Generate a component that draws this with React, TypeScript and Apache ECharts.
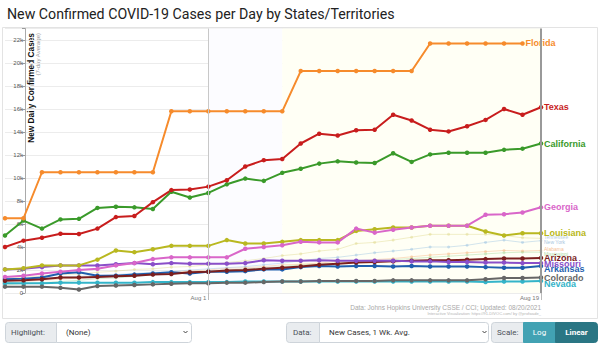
import React, { useEffect, useRef } from "react";
import * as echarts from "echarts";

const dates = [
  "Jul 21", "Jul 22", "Jul 23", "Jul 24", "Jul 25", "Jul 26", "Jul 27", "Jul 28", "Jul 29", "Jul 30",
  "Jul 31", "Aug 1", "Aug 2", "Aug 3", "Aug 4", "Aug 5", "Aug 6", "Aug 7", "Aug 8", "Aug 9",
  "Aug 10", "Aug 11", "Aug 12", "Aug 13", "Aug 14", "Aug 15", "Aug 16", "Aug 17", "Aug 18", "Aug 19",
];
const shownDates = ["Aug 1", "Aug 19"];
const yTicks = [0, 2000, 4000, 6000, 8000, 10000, 12000, 14000, 16000, 18000, 20000, 22000];

const florida = [6500, 6500, 10500, 10500, 10500, 10500, 10500, 10500, 10500, 15800, 15800, 15800, 15800, 15800, 15800, 15800, 19300, 19300, 19300, 19300, 19300, 19300, 19300, 21700, 21700, 21700, 21700, 21700, 21700];
const texas = [4000, 4550, 4800, 5150, 5130, 5600, 6600, 6700, 7900, 8950, 9000, 9250, 9800, 11000, 11550, 11650, 13000, 13850, 13700, 14150, 14200, 15500, 15000, 14200, 14050, 14500, 15050, 16000, 15500, 16150];
const california = [5000, 6300, 5600, 6400, 6450, 7400, 7500, 7450, 7300, 8800, 8300, 8700, 9450, 9950, 9750, 10450, 10800, 11250, 11450, 11350, 11300, 12150, 11400, 12050, 12200, 12200, 12200, 12450, 12550, 13000];
const georgia = [1400, 1500, 1700, 1850, 2000, 2100, 2400, 2600, 2950, 3100, 3100, 3100, 3100, 3850, 4000, 4150, 4450, 4400, 4400, 5600, 5250, 5500, 5700, 5850, 5850, 5850, 6800, 6850, 7000, 7450];
const louisiana = [2050, 2150, 2400, 2400, 2400, 2900, 3700, 3550, 3800, 4100, 4100, 4100, 4600, 4300, 4300, 4450, 4600, 4600, 4600, 5400, 5550, 5700, 5700, 5850, 5850, 5850, 5350, 5000, 5200, 5200];
const arizona = [1070, 1100, 1200, 1350, 1350, 1400, 1450, 1500, 1600, 1650, 1800, 1850, 1950, 2000, 2100, 2200, 2300, 2450, 2550, 2650, 2700, 2750, 2800, 2850, 2850, 2900, 2950, 3000, 3000, 3050];
const missouri = [2050, 2100, 2250, 2400, 2400, 2400, 2500, 2600, 2500, 2600, 2550, 2550, 2550, 2600, 2850, 2800, 2800, 2850, 2800, 2800, 2800, 2800, 2750, 2750, 2700, 2700, 2650, 2650, 2600, 2600];
const arkansas = [1200, 1250, 1350, 1700, 1800, 1500, 1500, 1600, 1700, 1800, 1700, 1850, 1850, 1900, 2050, 2050, 2250, 2350, 2300, 2350, 2350, 2300, 2350, 2300, 2300, 2300, 2250, 2200, 2200, 2350];
const colorado = [550, 550, 550, 450, 300, 600, 650, 700, 750, 800, 850, 850, 900, 900, 950, 1000, 1000, 1050, 1050, 1050, 1050, 1100, 1100, 1100, 1100, 1100, 1200, 1300, 1300, 1350];
const nevada = [850, 850, 850, 900, 900, 900, 900, 900, 950, 950, 950, 950, 950, 1000, 1000, 1000, 1000, 1000, 1000, 1000, 1000, 1000, 1000, 1000, 1000, 1000, 950, 1000, 1000, 1050];
const tennessee = [1300, 1350, 1500, 1600, 1650, 1800, 1900, 2050, 2100, 2250, 2300, 2450, 2650, 2800, 3000, 3250, 3400, 3650, 3800, 4300, 4400, 4600, 4850, 5100, 5100, 5100, 5100, 5000, 4800, 4750];
const newYork = [1200, 1250, 1300, 1350, 1450, 1500, 1600, 1700, 1800, 1850, 2000, 2100, 2200, 2300, 2450, 2600, 2800, 3000, 3100, 3300, 3500, 3650, 3800, 4000, 4000, 4150, 4400, 4600, 4400, 4550];
const alabama = [900, 1000, 1100, 1200, 1300, 1400, 1500, 1650, 1700, 1800, 1900, 2000, 2150, 2200, 2300, 2450, 2500, 2600, 2750, 2800, 2900, 3000, 3150, 3300, 3400, 3500, 3600, 3700, 3650, 3700];
const mississippi = [700, 800, 900, 1000, 1100, 1250, 1300, 1450, 1600, 1700, 1800, 1900, 2000, 2100, 2200, 2300, 2450, 2500, 2600, 2700, 2800, 2900, 3000, 3100, 3200, 3300, 3400, 3500, 3550, 3550];

const LABEL_FONT = "Liberation Sans, Arial, sans-serif";

function mainLine(name: string, data: number[], color: string, offset: number[] = [0, 0]) {
  return {
    type: "line",
    name,
    data,
    silent: true,
    symbol: "circle",
    symbolSize: 4.5,
    lineStyle: { width: 2, color },
    itemStyle: { color },
    endLabel: {
      show: true,
      formatter: () => name,
      color,
      fontSize: 9,
      fontWeight: "bold",
      fontFamily: LABEL_FONT,
      distance: 3,
      offset,
    },
    z: 3,
  };
}

function faintLine(name: string, data: number[], color: string, labelColor: string, offset: number[] = [0, 0]) {
  return {
    type: "line",
    name,
    data,
    silent: true,
    symbol: "circle",
    symbolSize: 3,
    lineStyle: { width: 1, color, opacity: 0.35 },
    itemStyle: { color, opacity: 0.35 },
    endLabel: {
      show: true,
      formatter: () => name,
      color: labelColor,
      fontSize: 5,
      fontFamily: LABEL_FONT,
      distance: 3,
      offset,
    },
    z: 2,
  };
}

export default function App() {
  const ref = useRef<HTMLDivElement>(null);
  useEffect(() => {
    if (!ref.current) return;
    const chart = echarts.init(ref.current, null, { renderer: "svg" });
    const textBase = { fontFamily: "Roboto, Liberation Sans, sans-serif" };
    chart.setOption({
      animation: false,
      backgroundColor: "#ffffff",
      title: {
        text: "New Confirmed COVID-19 Cases per Day by States/Territories",
        left: 2,
        top: 2,
        textStyle: { fontSize: 14.2, fontWeight: "normal", color: "#222", fontFamily: "Roboto, sans-serif" },
      },
      grid: { left: 5, right: 59, top: 28.5, bottom: 51, containLabel: false },
      xAxis: {
        type: "category",
        data: dates,
        boundaryGap: false,
        axisLine: { show: false },
        axisTick: {
          show: true,
          length: 7,
          interval: (i: number, v: string) => shownDates.includes(v),
          lineStyle: { color: "#bbb" },
        },
        axisLabel: {
          interval: (i: number, v: string) => shownDates.includes(v),
          fontSize: 6,
          color: "#777",
          align: "right",
          margin: 2,
          padding: [0, 2, 0, 0],
          fontFamily: "Liberation Sans, sans-serif",
        },
        splitLine: { show: false },
      },
      yAxis: {
        type: "value",
        min: 0,
        max: 23000,
        interval: 2000,
        offset: -20,
        axisLine: { show: true, lineStyle: { color: "#aaa" } },
        axisTick: { show: true, length: 3, lineStyle: { color: "#999" } },
        axisLabel: {
          fontSize: 6,
          color: "#555",
          margin: 2,
          fontFamily: "Liberation Sans, sans-serif",
          formatter: (v: number) => (yTicks.includes(v) ? (v === 0 ? "0" : v / 1000 + "k") : ""),
        },
        splitLine: { show: true, lineStyle: { color: "#ececec", width: 1 } },
      },
      series: [
        {
          type: "line",
          name: "bg",
          data: [],
          silent: true,
          z: 0,
          markArea: {
            silent: true,
            itemStyle: { color: "#fcfcff" },
            data: [
              [{ xAxis: "Aug 1" }, { xAxis: "Aug 5" }],
              [{ xAxis: "Aug 5", itemStyle: { color: "#fffff5" } }, { xAxis: "Aug 19" }],
            ],
          },
          markLine: {
            silent: true,
            symbol: "none",
            label: { show: false },
            data: [
              { xAxis: "Aug 1", lineStyle: { color: "#c8c8c8", width: 1, type: "solid" } },
              { xAxis: "Aug 19", lineStyle: { color: "#999", width: 2, type: "solid" } },
            ],
          },
        },
        faintLine("Mississippi", mississippi, "#8fcf85", "#b4dcaa", [0, 1.5]),
        faintLine("Alabama", alabama, "#f4a460", "#f6bf98", [0, -1]),
        faintLine("New York", newYork, "#7fb3de", "#a9c6e0", [0, 1.5]),
        faintLine("Tennessee", tennessee, "#d8cf70", "#b9cfe4", [0, -1]),
        mainLine("Nevada", nevada, "#34b4c9", [0, 3.3]),
        mainLine("Colorado", colorado, "#666666", [0, 0.3]),
        mainLine("Arkansas", arkansas, "#1f5fae", [0, 3.5]),
        mainLine("Arizona", arizona, "#7b1e1e", [0, 0]),
        mainLine("Missouri", missouri, "#8a4fc9", [0, 0.8]),
        mainLine("Louisiana", louisiana, "#b9b820", [0, -0.5]),
        mainLine("Georgia", georgia, "#d966c9", [0, 0]),
        mainLine("California", california, "#3a9a2a", [0, 0]),
        mainLine("Texas", texas, "#c81d1d", [0, 0]),
        mainLine("Florida", florida, "#f68b2c", [0, 0]),
      ],
      graphic: [
        {
          type: "rect",
          silent: true,
          z: -10,
          shape: { x: 2.5, y: 27.5, width: 595, height: 291 },
          style: { fill: "none", stroke: "#e3e3e3", lineWidth: 1 },
        },
        {
          type: "text",
          x: 27,
          y: 33,
          rotation: Math.PI / 2,
          style: {
            text: "New Daily Confirmed Cases",
            fill: "#111",
            fontSize: 8.3,
            fontWeight: "bold",
            fontFamily: "Liberation Sans, Arial, sans-serif",
            textAlign: "right",
            textVerticalAlign: "top",
            align: "right",
            verticalAlign: "top",
          },
        },
        {
          type: "text",
          x: 34.5,
          y: 33,
          rotation: Math.PI / 2,
          style: {
            text: "(7-day Average)",
            fill: "#999",
            fontSize: 6,
            fontFamily: "Liberation Sans, Arial, sans-serif",
            textAlign: "right",
            textVerticalAlign: "top",
            align: "right",
            verticalAlign: "top",
          },
        },
        {
          type: "text",
          x: 541,
          y: 307,
          style: {
            text: "Data: Johns Hopkins University CSSE / CCI; Updated: 08/20/2021",
            fill: "#a8a8a8",
            fontSize: 6.5,
            fontFamily: "Liberation Sans, Arial, sans-serif",
            textAlign: "right",
            textVerticalAlign: "middle",
            align: "right",
            verticalAlign: "middle",
          },
        },
        {
          type: "text",
          x: 541,
          y: 313.5,
          style: {
            text: "Interactive Visualization: https://91-DIVOC.com/ by @profwade_",
            fill: "#b5b5b5",
            fontSize: 4,
            fontFamily: "Liberation Sans, Arial, sans-serif",
            textAlign: "right",
            textVerticalAlign: "middle",
            align: "right",
            verticalAlign: "middle",
          },
        },
        // Controls row
        { type: "rect", shape: { x: 5.5, y: 322.5, width: 51, height: 20, r: [3, 0, 0, 3] }, style: { fill: "#e9ecef", stroke: "#ced4da" } },
        { type: "text", x: 11, y: 332.5, style: { text: "Highlight:", fill: "#495057", fontSize: 8, ...textBase, textVerticalAlign: "middle", verticalAlign: "middle" } },
        { type: "rect", shape: { x: 56.5, y: 322.5, width: 135, height: 20, r: [0, 3, 3, 0] }, style: { fill: "#fff", stroke: "#ced4da" } },
        { type: "text", x: 66, y: 332.5, style: { text: "(None)", fill: "#333", fontSize: 8, ...textBase, textVerticalAlign: "middle", verticalAlign: "middle" } },
        { type: "polyline", shape: { points: [[183.5, 331], [185.5, 333], [187.5, 331]] }, style: { stroke: "#444", lineWidth: 1, fill: "none" } },

        { type: "rect", shape: { x: 286.5, y: 322.5, width: 33, height: 20, r: [3, 0, 0, 3] }, style: { fill: "#e9ecef", stroke: "#ced4da" } },
        { type: "text", x: 293, y: 332.5, style: { text: "Data:", fill: "#495057", fontSize: 8, ...textBase, textVerticalAlign: "middle", verticalAlign: "middle" } },
        { type: "rect", shape: { x: 319.5, y: 322.5, width: 169, height: 20, r: [0, 3, 3, 0] }, style: { fill: "#fff", stroke: "#ced4da" } },
        { type: "text", x: 329, y: 332.5, style: { text: "New Cases, 1 Wk. Avg.", fill: "#333", fontSize: 8, ...textBase, textVerticalAlign: "middle", verticalAlign: "middle" } },
        { type: "polyline", shape: { points: [[482.5, 331], [484.5, 333], [486.5, 331]] }, style: { stroke: "#444", lineWidth: 1, fill: "none" } },

        { type: "rect", shape: { x: 491.5, y: 322.5, width: 32, height: 20, r: [3, 0, 0, 3] }, style: { fill: "#e9ecef", stroke: "#ced4da" } },
        { type: "text", x: 497, y: 332.5, style: { text: "Scale:", fill: "#495057", fontSize: 8, ...textBase, textVerticalAlign: "middle", verticalAlign: "middle" } },
        { type: "rect", shape: { x: 523.5, y: 322.5, width: 32, height: 20 }, style: { fill: "#42a2b3", stroke: "#42a2b3" } },
        { type: "text", x: 539.5, y: 332.5, style: { text: "Log", fill: "#fff", fontSize: 8, ...textBase, textAlign: "center", align: "center", textVerticalAlign: "middle", verticalAlign: "middle" } },
        { type: "rect", shape: { x: 555.5, y: 322.5, width: 42, height: 20, r: [0, 3, 3, 0] }, style: { fill: "#2a7684", stroke: "#2a7684" } },
        { type: "text", x: 576.5, y: 332.5, style: { text: "Linear", fill: "#fff", fontSize: 8, fontWeight: "bold", ...textBase, textAlign: "center", align: "center", textVerticalAlign: "middle", verticalAlign: "middle" } },
      ],
    });
    return () => chart.dispose();
  }, []);
  return <div ref={ref} style={{ position: "fixed", left: 0, top: 0, width: 600, height: 344 }} />;
}
